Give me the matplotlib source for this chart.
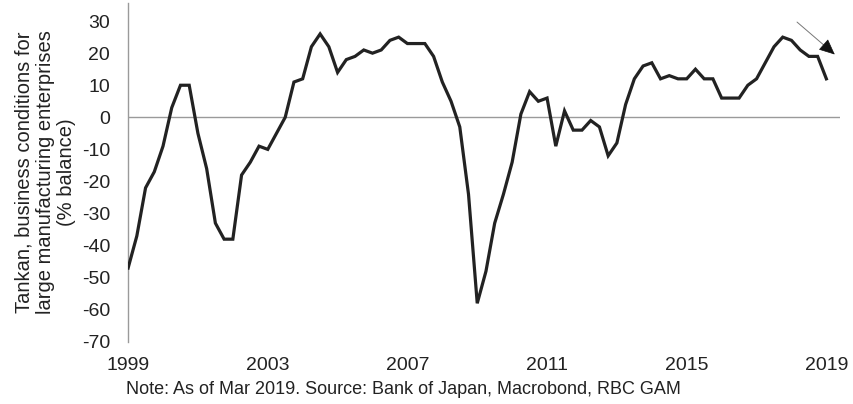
import numpy as np
import matplotlib.pyplot as plt

plt.rcParams['font.family'] = ['Liberation Sans', 'DejaVu Sans']
plt.rcParams['axes.unicode_minus'] = False

# Tankan large manufacturers DI, quarterly from 1999 Q1 to 2019 Q1
start_year = 1999
tankan = [-47, -37, -22, -17,
          -9, 3, 10, 10,
          -5, -16, -33, -38,
          -38, -18, -14, -9,
          -10, -5, 0, 11,
          12, 22, 26, 22,
          14, 18, 19, 21,
          20, 21, 24, 25,
          23, 23, 23, 19,
          11, 5, -3, -24,
          -58, -48, -33, -24,
          -14, 1, 8, 5,
          6, -9, 2, -4,
          -4, -1, -3, -12,
          -8, 4, 12, 16,
          17, 12, 13, 12,
          12, 15, 12, 12,
          6, 6, 6, 10,
          12, 17, 22, 25,
          24, 21, 19, 19,
          12]
year_ticks = [1999, 2003, 2007, 2011, 2015, 2019]
y_ticks = list(range(-70, 31, 10))
ylabel = "Tankan, business conditions for\nlarge manufacturing enterprises\n(% balance)"
note = "Note: As of Mar 2019. Source: Bank of Japan, Macrobond, RBC GAM"

x = start_year + np.arange(len(tankan)) / 4.0

fig = plt.figure(figsize=(8.54, 4.04), dpi=100)
ax = fig.add_axes([0.150, 0.154, 0.834, 0.839])

ax.axhline(0, color='#9a9a9a', lw=1.0, zorder=1)
ax.plot(x, tankan, color='#222222', lw=2.3, solid_joinstyle='miter', zorder=3)

# down arrow near the end: thin grey shaft, black head
tip = (2019.24, 19.6)
tail = (2018.16, 29.7)
ax.annotate('', xy=tip, xytext=tail,
            arrowprops=dict(arrowstyle='-', color='#777777', lw=0.7,
                            shrinkA=0, shrinkB=2))
ax.annotate('', xy=tip, xytext=(2019.0, 21.9),
            arrowprops=dict(arrowstyle='-|>,head_length=1.0,head_width=0.45',
                            color='#111111', lw=0.5, shrinkA=0, shrinkB=0))

ax.set_xlim(1999, 2019.4)
ax.set_ylim(-70, 35.7)
ax.set_xticks(year_ticks)
ax.set_xticklabels([str(t) for t in year_ticks])
ax.set_yticks(y_ticks)
ax.tick_params(axis='both', length=0, labelsize=14, colors='#222222')
ax.tick_params(axis='x', pad=11)
ax.tick_params(axis='y', pad=13)

for s in ['top', 'right', 'bottom']:
    ax.spines[s].set_visible(False)
ax.spines['left'].set_color('#9a9a9a')
ax.spines['left'].set_linewidth(1.0)

ax.set_ylabel(ylabel, fontsize=14.5, color='#222222', linespacing=1.15,
              multialignment='center')
ax.yaxis.set_label_coords(-0.073, 0.5)

fig.text(403 / 854, 1 - 390 / 404, note, ha='center', va='center',
         fontsize=13, color='#222222')

fig.savefig('out.png', dpi=100)
